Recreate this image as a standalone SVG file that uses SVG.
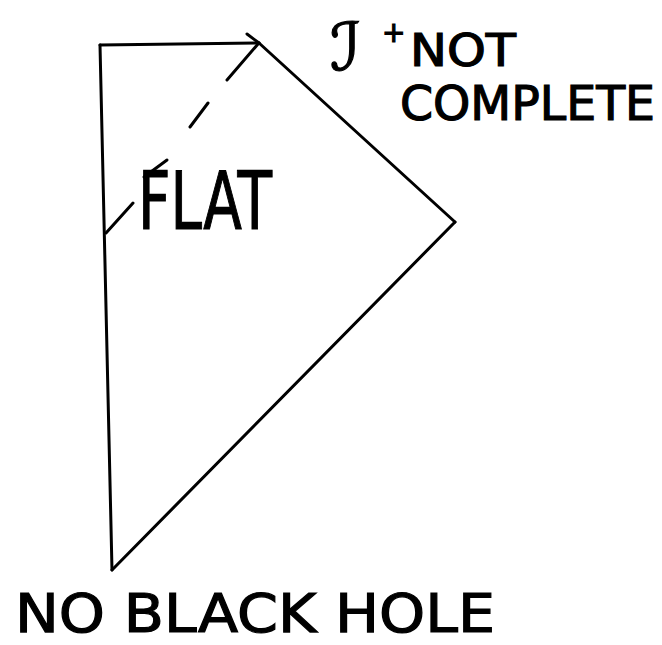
<svg xmlns="http://www.w3.org/2000/svg" width="662" height="645" viewBox="0 0 662 645">
<style>
.ln{stroke:#000;stroke-width:3;fill:none;stroke-linecap:round;stroke-linejoin:round}
.t{font-family:"DejaVu Sans","Liberation Sans",sans-serif;fill:#000;stroke:#000;stroke-width:1.2}
</style>
<rect width="662" height="645" fill="#fff"/>
<g id="connectors">
<path class="ln" d="M100,45 L112,570"/>
<path class="ln" d="M100,45 L259,43"/>
<path class="ln" d="M247,34 L259,43"/>
<path class="ln" d="M259,43 L455,222"/>
<path class="ln" d="M455,222 L112,570"/>
<path class="ln" d="M258,44 L227,80 M208,103 L190,127 M133,203 L106,233"/>
</g>
<g id="flat">
<text class="t" x="138" y="229" font-size="80" textLength="134" lengthAdjust="spacingAndGlyphs">FLAT</text>
<path class="ln" d="M144,177 L167,160"/>
</g>
<g id="scri">
<text class="t" x="330" y="70" font-size="66" font-style="italic" font-family="DejaVu Serif,serif" stroke-width="2">ℐ</text>
<text class="t" x="382" y="42" font-size="28">+</text>
<text class="t" x="410" y="66" font-size="44" textLength="106" lengthAdjust="spacingAndGlyphs">NOT</text>
<text class="t" x="400" y="120" font-size="48" textLength="255" lengthAdjust="spacingAndGlyphs">COMPLETE</text>
</g>
<g id="noblackhole">
<text class="t" x="15" y="632" font-size="54" textLength="480" lengthAdjust="spacingAndGlyphs">NO BLACK HOLE</text>
</g>
</svg>
